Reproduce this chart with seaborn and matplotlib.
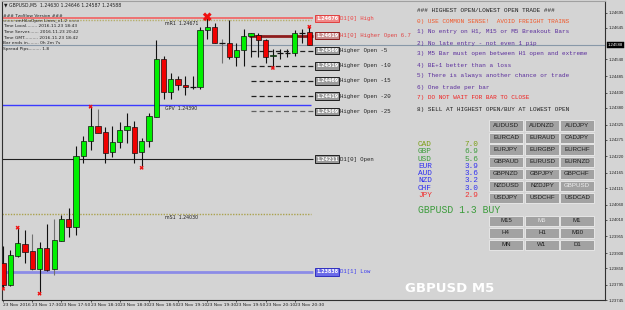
import matplotlib
matplotlib.use("Agg")
import matplotlib.pyplot as plt
import matplotlib.transforms as mtransforms
from matplotlib.patches import Rectangle
import numpy as np
import pandas as pd
import seaborn as sns

# ---------------- data ----------------
opens = [1.23867, 1.23794, 1.23890, 1.23929, 1.23906, 1.23847, 1.23916, 1.23847, 1.23939, 1.24012,
         1.23986, 1.24220, 1.24269, 1.24319, 1.24299, 1.24233, 1.24266, 1.24306, 1.24316, 1.24233,
         1.24269, 1.24349, 1.24543, 1.24431, 1.24477, 1.24457, 1.24448, 1.24448, 1.24636, 1.24649,
         1.24596, 1.24596, 1.24547, 1.24570, 1.24619, 1.24622, 1.24603, 1.24550, 1.24560, 1.24560,
         1.24560, 1.24626, 1.24630]
highs = [1.23923, 1.23910, 1.23982, 1.23976, 1.23962, 1.23936, 1.23995, 1.24012, 1.24025, 1.24048,
         1.24253, 1.24286, 1.24382, 1.24378, 1.24316, 1.24319, 1.24332, 1.24362, 1.24336, 1.24279,
         1.24362, 1.24603, 1.24553, 1.24497, 1.24484, 1.24484, 1.24487, 1.24649, 1.24679, 1.24659,
         1.24609, 1.24672, 1.24593, 1.24642, 1.24629, 1.24629, 1.24609, 1.24576, 1.24576, 1.24576,
         1.24639, 1.24642, 1.24646]
lows = [1.23784, 1.23791, 1.23887, 1.23867, 1.23844, 1.23768, 1.23840, 1.23827, 1.23939, 1.23953,
        1.23959, 1.24197, 1.24240, 1.24296, 1.24197, 1.24217, 1.24246, 1.24263, 1.24197, 1.24184,
        1.24250, 1.24349, 1.24408, 1.24411, 1.24438, 1.24424, 1.24444, 1.24444, 1.24609, 1.24593,
        1.24527, 1.24543, 1.24520, 1.24520, 1.24547, 1.24547, 1.24527, 1.24514, 1.24543, 1.24547,
        1.24550, 1.24593, 1.24587]
closes = [1.23794, 1.23893, 1.23933, 1.23903, 1.23847, 1.23916, 1.23844, 1.23943, 1.24012, 1.23986,
          1.24220, 1.24269, 1.24319, 1.24296, 1.24230, 1.24266, 1.24306, 1.24319, 1.24230, 1.24269,
          1.24352, 1.24543, 1.24434, 1.24477, 1.24457, 1.24448, 1.24449, 1.24636, 1.24649, 1.24596,
          1.24597, 1.24547, 1.24570, 1.24619, 1.24626, 1.24606, 1.24547, 1.24556, 1.24560, 1.24561,
          1.24626, 1.24626, 1.24588]

fractal_up = [2, 12, 28, 42]
fractal_dn = [0, 5, 19, 37]
big_fractal = [28]

x_tick_pos = [0, 4, 8, 12, 16, 20, 24, 28, 32, 36, 40]
x_tick_labels = ["23 Nov 2016", "23 Nov 17:30", "23 Nov 17:50", "23 Nov 18:10", "23 Nov 18:30",
                 "23 Nov 18:50", "23 Nov 19:10", "23 Nov 19:30", "23 Nov 19:50", "23 Nov 20:10",
                 "23 Nov 20:30"]
y_ticks = [1.24695, 1.24645, 1.24540, 1.24485, 1.24430, 1.24380, 1.24325, 1.24275, 1.24220,
           1.24165, 1.24115, 1.24060, 1.24010, 1.23955, 1.23900, 1.23850, 1.23795, 1.23745]
current_price = 1.24588

level_names = ["D1[0] High", "H1[0] Higher Open 6.7", "Higher Open -5", "Higher Open -10",
               "Higher Open -15", "Higher Open -20", "Higher Open -25", "D1[0] Open", "D1[1] Low"]
level_prices = [1.24676, 1.24619, 1.24569, 1.24519, 1.24469, 1.24419, 1.24369, 1.24211, 1.23838]

pivot_names = ["mR1", "GPV", "mS1"]
pivot_prices = [1.24671, 1.24390, 1.24030]

currencies = ["CAD", "GBP", "USD", "EUR", "AUD", "NZD", "CHF", "JPY"]
strengths = [7.0, 6.9, 5.6, 3.9, 3.6, 3.2, 3.0, 2.9]

pairs = [["AUDUSD", "AUDNZD", "AUDJPY"],
         ["EURCAD", "EURAUD", "CADJPY"],
         ["EURJPY", "EURGBP", "EURCHF"],
         ["GBPAUD", "EURUSD", "EURNZD"],
         ["GBPNZD", "GBPJPY", "GBPCHF"],
         ["NZDUSD", "NZDJPY", "GBPUSD"],
         ["USDJPY", "USDCHF", "USDCAD"]]
timeframes = [["M15", "M5", "M1"], ["H4", "H1", "M30"], ["MN", "W1", "D1"]]

rules = ["### HIGHEST OPEN/LOWEST OPEN TRADE ###",
         "0) USE COMMON SENSE!  AVOID FREIGHT TRAINS",
         "1) No entry on H1, M15 or M5 Breakout Bars",
         "2) No late entry - not even 1 pip",
         "3) M5 Bar must open between H1 open and extreme",
         "4) BE+1 better than a loss",
         "5) There is always another chance or trade",
         "6) One trade per bar",
         "7) DO NOT WAIT FOR BAR TO CLOSE",
         "8) SELL AT HIGHEST OPEN/BUY AT LOWEST OPEN"]

info_lines = ["### TzoSlow Version ###",
              "=== smHiLoOpen Lines_v1.2 ===",
              "Time Local........ 2016.11.23 18:43",
              "Time Server....... 2016.11.23 20:42",
              "Time GMT.......... 2016.11.23 18:42",
              "Bar ends in........ 0h 2m 7s",
              "Spread Pips......... 1.8"]

# ---------------- styling ----------------
BG = "#D4D4D4"
W, H = 625, 310
sns.set_theme(style="white")
plt.rcParams["font.family"] = ["DejaVu Sans"]
MONO = "Liberation Mono"
SANS = "Liberation Sans"

fig = plt.figure(figsize=(W / 100, H / 100), dpi=100, facecolor=BG)
ax = fig.add_axes([2 / W, 10 / H, 603 / W, 299.5 / H])
ax.set_facecolor(BG)

df = pd.DataFrame({"open": opens, "high": highs, "low": lows, "close": closes})
df["idx"] = np.arange(len(df))

X0, X1 = -0.15, 82.55
ax.set_xlim(X0, X1)
ax.set_ylim(1.23745, 1.24735)

def fx(px):  # figure pixel -> data x
    return X0 + (px - 2) / 603 * (X1 - X0)

line_end = fx(313)

# ---- horizontal level lines ----
ax.axhline(current_price, color="#8898A8", lw=0.8, zorder=1)
ax.hlines(level_prices[0], X0, line_end, color="#F06A6A", lw=1.3, zorder=2)
ax.hlines(pivot_prices[0], X0, fx(311), color="#B5AE6A", lw=1.0, linestyles=(0, (1, 1)), zorder=2)
ax.hlines(pivot_prices[1], X0, fx(311), color="#3A3AFF", lw=1.0, zorder=2)
ax.hlines(pivot_prices[2], X0, fx(311), color="#ABA24E", lw=1.0, linestyles=(0, (1, 1)), zorder=2)
ax.hlines(level_prices[7], X0, line_end, color="#202020", lw=0.8, zorder=2)
ax.hlines(level_prices[8], X0, line_end, color="#8C8CE6", lw=2.0, zorder=2)
h1_start = 34
ax.hlines(level_prices[1], h1_start - 0.3, line_end, color="#8E1C1C", lw=2.0, zorder=2)
for k, p in enumerate(level_prices[2:7]):
    c = "#202020" if k < 4 else "#606060"
    ax.hlines(p, h1_start, line_end, color=c, lw=0.9, linestyles=(0, (4, 2.5)), zorder=2)

# pivot labels
for n, p in zip(pivot_names, pivot_prices):
    ax.text(fx(165), p - 0.00003, f"{n}  {p:.5f}", fontsize=3.4, color="#202020",
            ha="left", va="top", zorder=5)

# ---- candles ----
wick_gray = [4, 7, 13, 30]
for i, r in df.iterrows():
    wc = "#707070" if i in wick_gray else "#101010"
    ax.vlines(r.idx, r.low, r.high, color=wc, lw=0.8, zorder=3)
    diff = r.close - r.open
    if abs(diff) < 0.000015:
        ax.hlines(r.open, r.idx - 0.4, r.idx + 0.4, color="#101010", lw=0.9, zorder=4)
    else:
        col = "#00F000" if diff > 0 else "#F00000"
        ax.bar(r.idx, diff, bottom=r.open, width=0.72, color=col, edgecolor="#101010",
               linewidth=0.5, zorder=4)

# fractals
fr = pd.DataFrame({
    "idx": fractal_up + fractal_dn,
    "price": [highs[i] + 0.00002 for i in fractal_up] + [lows[i] - 0.00002 for i in fractal_dn],
    "size": [40 if i in big_fractal else 9 for i in fractal_up] + [9 for _ in fractal_dn],
})
sns.scatterplot(data=fr, x="idx", y="price", size="size", sizes=(9, 40), marker="X",
                color="#F01010", linewidth=0, legend=False, ax=ax, zorder=6)
ax.set_xlabel("")
ax.set_ylabel("")

# ---- level price boxes and names ----
box_styles = [("#F08A8A", "#E04040", "white"), ("#C89090", "#8E1C1C", "white")] + \
             [("#9A9A9A", "#202020", "white")] * 6 + [("#6A6AE8", "#3030C0", "white")]
name_colors = ["#F04040", "#E04040"] + ["#202020"] * 6 + ["#3A3AF0"]
for n, p, (fc, ec, tc), nc in zip(level_names, level_prices, box_styles, name_colors):
    ax.text(fx(316), p, f"{p:.5f}", fontsize=3.5, color=tc, ha="left", va="center",
            fontweight="bold", zorder=7,
            bbox=dict(boxstyle="square,pad=0.25", fc=fc, ec=ec, lw=0.7))
    ax.text(fx(340), p, n, fontsize=4.1, color=nc, ha="left", va="center",
            family=MONO, zorder=7)

# ---- axes decoration ----
ax.yaxis.tick_right()
ax.set_yticks(y_ticks)
ax.set_yticklabels([f"{v:.5f}" for v in y_ticks], family=SANS)
ax.set_xticks(x_tick_pos)
ax.set_xticklabels(x_tick_labels, ha="left")
ax.tick_params(axis="y", labelsize=3.1, length=1.5, width=0.5, pad=0.8, colors="#202020",
               right=True, left=False)
ax.tick_params(axis="x", labelsize=3.2, length=1.5, width=0.5, pad=1, colors="#202020",
               bottom=True)
for s in ax.spines.values():
    s.set_color("#303030")
    s.set_linewidth(0.8)
ax.spines["top"].set_color("#A0A0A0")

blend = mtransforms.blended_transform_factory(ax.transAxes, ax.transData)
ax.text(1.004, current_price, f"{current_price:.5f}", transform=blend, fontsize=3.1,
        color="white", ha="left", va="center", zorder=8, clip_on=False, family=SANS,
        bbox=dict(boxstyle="square,pad=0.2", fc="black", ec="black", lw=0.3))

# ---- figure-level texts (panel) ----
def ft(px, py, s, **kw):
    kw.setdefault("va", "center")
    kw.setdefault("ha", "left")
    fig.text(px / W, 1 - py / H, s, **kw)

ft(4, 5, "\u25bc GBPUSD,M5  1.24630 1.24646 1.24587 1.24588", fontsize=3.3, color="#202020")
info_y = [16, 21, 26, 32, 38, 43.5, 49]
for s, y in zip(info_lines, info_y):
    ft(3, y, s, fontsize=3.2, color="#202020")

rule_colors = ["#202020", "#F0582A", "#5A2D9C", "#5A2D9C", "#5A2D9C", "#5A2D9C",
               "#5A2D9C", "#5A2D9C", "#F02020", "#202020"]
for k, (s, c) in enumerate(zip(rules, rule_colors)):
    ft(417, 10 + 11 * k, s, fontsize=4.35, color=c, family=MONO)

cur_colors = ["#7A9E14", "#3C9C3C", "#3C9C3C", "#3030F0", "#3030F0", "#3030F0", "#3030F0", "#F03030"]
for k, (c, v, col) in enumerate(zip(currencies, strengths, cur_colors)):
    yy = 144.5 + 7.3 * k
    ft(418, yy, c, fontsize=5.6, color=col, family=MONO, fontstretch="expanded")
    ft(478, yy, f"{v:.1f}", fontsize=5.6, color=col, family=MONO, ha="right")
ft(418, 210, "GBPUSD 1.3 BUY", fontsize=7.0, color="#3C9C3C", family=MONO)

def button(px, py, label, selected=False):
    fig.patches.append(Rectangle((px / W, 1 - (py + 10.5) / H), 34 / W, 10.5 / H,
                                 transform=fig.transFigure, fc="#A2A2A2", ec="#E6E6E6",
                                 lw=0.7, zorder=2))
    fig.text((px + 17) / W, 1 - (py + 5.4) / H, label, fontsize=4.4,
             color="#EDEDED" if selected else "#1E1E1E", ha="center", va="center",
             family=SANS, zorder=3)

col_x = [489, 525, 560]
for r, row in enumerate(pairs):
    for c, lab in enumerate(row):
        button(col_x[c], 120.5 + 12 * r, lab, selected=(lab == "GBPUSD"))
for r, row in enumerate(timeframes):
    for c, lab in enumerate(row):
        button(col_x[c], 215.5 + 12 * r, lab, selected=(lab == "M5"))

ft(450, 288, "GBPUSD M5", fontsize=9.5, color="white", fontweight="bold", ha="center")

fig.savefig("out.png", dpi=100, facecolor=BG)
